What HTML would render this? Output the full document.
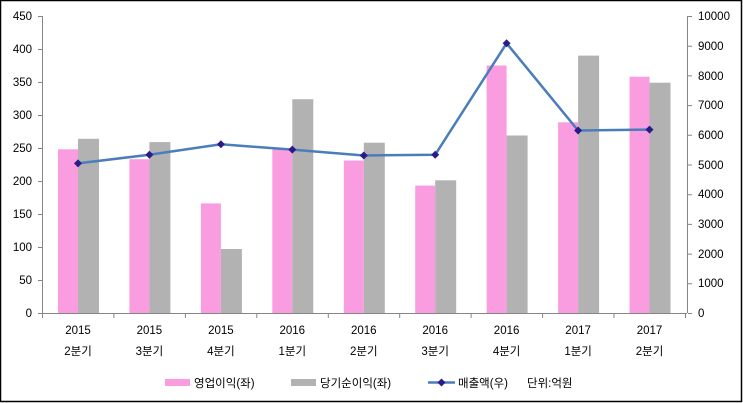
<!DOCTYPE html>
<html><head><meta charset="utf-8"><style>
html,body{margin:0;padding:0;background:#fff}
svg{display:block}
text{font-family:"Liberation Sans","Noto Sans CJK KR","NanumGothic",sans-serif;font-size:11.5px;fill:#000}
</style></head><body>
<svg width="743" height="403" viewBox="0 0 743 403" xmlns="http://www.w3.org/2000/svg">
<rect x="0.5" y="0.5" width="741" height="401" fill="#fff" stroke="#000" stroke-width="1.5"/>
<g fill="#f99de0">
<rect x="58" y="149.3" width="20" height="163.7"/>
<rect x="129.4" y="159.2" width="20" height="153.8"/>
<rect x="200.9" y="203.4" width="20" height="109.6"/>
<rect x="272.3" y="149.3" width="20" height="163.7"/>
<rect x="343.8" y="160.5" width="20" height="152.5"/>
<rect x="415.2" y="185.6" width="20" height="127.4"/>
<rect x="486.6" y="65.5" width="20" height="247.5"/>
<rect x="558.1" y="122.3" width="20" height="190.7"/>
<rect x="629.5" y="76.7" width="20" height="236.3"/>
</g>
<g fill="#b2b2b2">
<rect x="78" y="138.8" width="21" height="174.2"/>
<rect x="149.4" y="142.1" width="21" height="170.9"/>
<rect x="220.9" y="249" width="21" height="64"/>
<rect x="292.3" y="99.2" width="21" height="213.8"/>
<rect x="363.8" y="142.7" width="21" height="170.3"/>
<rect x="435.2" y="180.3" width="21" height="132.7"/>
<rect x="506.6" y="135.5" width="21" height="177.5"/>
<rect x="578.1" y="55.6" width="21" height="257.4"/>
<rect x="649.5" y="82.7" width="21" height="230.3"/>
</g>
<g stroke="#868686" stroke-width="1" fill="none">
<line x1="42.5" y1="16" x2="42.5" y2="313"/>
<line x1="687.5" y1="16" x2="687.5" y2="313"/>
<line x1="42" y1="313.5" x2="687" y2="313.5"/>
<path d="M38 16.5h4M38 49.5h4M38 82.5h4M38 115.5h4M38 148.5h4M38 181.5h4M38 214.5h4M38 247.5h4M38 280.5h4M38 313.5h4"/>
<path d="M688 16.5h4M688 46.2h4M688 75.9h4M688 105.6h4M688 135.3h4M688 165h4M688 194.7h4M688 224.4h4M688 254.1h4M688 283.8h4M688 313.5h4"/>
<path d="M42.5 313v5M113.9 313v5M185.4 313v5M256.8 313v5M328.3 313v5M399.7 313v5M471.1 313v5M542.6 313v5M614 313v5M685.5 313v5"/>
</g>
<g text-anchor="end">
<text x="32" y="20">450</text><text x="32" y="53">400</text><text x="32" y="86">350</text><text x="32" y="119">300</text><text x="32" y="152">250</text><text x="32" y="185">200</text><text x="32" y="218">150</text><text x="32" y="251">100</text><text x="32" y="284">50</text><text x="32" y="317">0</text>
</g>
<g text-anchor="start">
<text x="698" y="20">10000</text><text x="698" y="50">9000</text><text x="698" y="80">8000</text><text x="698" y="109">7000</text><text x="698" y="139">6000</text><text x="698" y="169">5000</text><text x="698" y="198">4000</text><text x="698" y="228">3000</text><text x="698" y="258">2000</text><text x="698" y="287">1000</text><text x="698" y="317">0</text>
</g>
<g text-anchor="middle">
<text x="78" y="334">2015</text><text x="78" y="355">2분기</text>
<text x="149.4" y="334">2015</text><text x="149.4" y="355">3분기</text>
<text x="220.9" y="334">2015</text><text x="220.9" y="355">4분기</text>
<text x="292.3" y="334">2016</text><text x="292.3" y="355">1분기</text>
<text x="363.8" y="334">2016</text><text x="363.8" y="355">2분기</text>
<text x="435.2" y="334">2016</text><text x="435.2" y="355">3분기</text>
<text x="506.6" y="334">2016</text><text x="506.6" y="355">4분기</text>
<text x="578.1" y="334">2017</text><text x="578.1" y="355">1분기</text>
<text x="649.5" y="334">2017</text><text x="649.5" y="355">2분기</text>
</g>
<polyline fill="none" stroke="#4a7ebb" stroke-width="2.5" points="78,163.4 149.4,154.7 220.9,144.3 292.3,149.6 363.8,155.5 435.2,154.7 506.6,43.3 578.1,130.5 649.5,129.6"/>
<g fill="#2b1a8a">
<path d="M78 159.4l4 4-4 4-4-4z"/><path d="M149.4 150.7l4 4-4 4-4-4z"/><path d="M220.9 140.3l4 4-4 4-4-4z"/><path d="M292.3 145.6l4 4-4 4-4-4z"/><path d="M363.8 151.5l4 4-4 4-4-4z"/><path d="M435.2 150.7l4 4-4 4-4-4z"/><path d="M506.6 39.3l4 4-4 4-4-4z"/><path d="M578.1 126.5l4 4-4 4-4-4z"/><path d="M649.5 125.6l4 4-4 4-4-4z"/>
</g>
<rect x="165" y="379" width="25" height="7" fill="#f99de0"/>
<text x="194" y="387">영업이익(좌)</text>
<rect x="291" y="379" width="25" height="7" fill="#b2b2b2"/>
<text x="320" y="387">당기순이익(좌)</text>
<line x1="428" y1="382.5" x2="455" y2="382.5" stroke="#4a7ebb" stroke-width="2.5"/>
<path d="M441.5 378.5l4 4-4 4-4-4z" fill="#2b1a8a"/>
<text x="458" y="387">매출액(우)</text>
<text x="527" y="387">단위:억원</text>
</svg>
</body></html>
